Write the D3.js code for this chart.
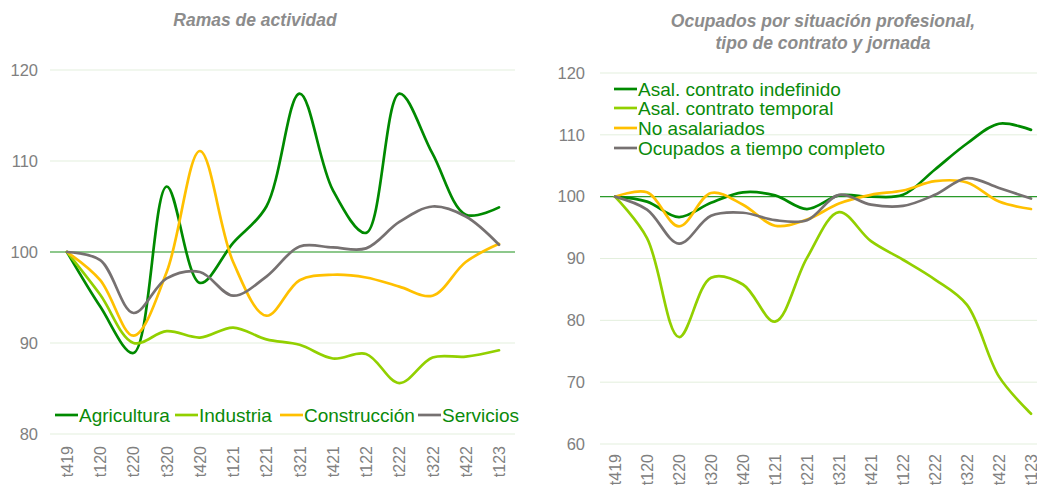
<!DOCTYPE html>
<html>
<head>
<meta charset="utf-8">
<script src="https://cdn.jsdelivr.net/npm/d3@7"></script>
<style>
  body { margin: 0; background: #fff; }
  svg { font-family: "Liberation Sans", Arial, sans-serif; }
</style>
</head>
<body>
<svg id="chart" width="1037" height="486"></svg>
<script>
// quarters shared by both panels
const quarters = ["t419", "t120", "t220", "t320", "t420", "t121", "t221", "t321",
                  "t421", "t122", "t222", "t322", "t422", "t123"];

// left panel: ramas de actividad
const agricultura  = [100, 94.0, 88.9, 107.2, 96.6, 101.0, 105.0, 117.4, 106.8, 102.1, 117.4, 110.8, 104.1, 104.9];
const industria    = [100, 95.3, 90.0, 91.3, 90.6, 91.7, 90.4, 89.8, 88.3, 88.8, 85.6, 88.4, 88.5, 89.2];
const construccion = [100, 96.9, 90.8, 97.8, 111.1, 98.9, 93.0, 96.9, 97.5, 97.2, 96.2, 95.2, 98.9, 100.9];
const servicios    = [100, 99.1, 93.3, 97.1, 97.8, 95.2, 97.3, 100.6, 100.5, 100.4, 103.3, 105.0, 103.9, 100.8];

// right panel: situación profesional, contrato y jornada
const indefinido = [100, 99.2, 96.7, 99.0, 100.7, 100.2, 98.0, 100.2, 100.0, 100.3, 104.4, 108.6, 111.8, 110.8];
const temporal   = [100, 93.3, 77.3, 86.9, 85.8, 79.8, 90.1, 97.5, 92.8, 89.8, 86.6, 82.5, 70.9, 64.9];
const noAsal     = [100, 100.7, 95.2, 100.6, 98.7, 95.3, 96.3, 98.9, 100.3, 101.0, 102.5, 102.3, 99.2, 98.0];
const completo   = [100, 97.9, 92.4, 96.9, 97.4, 96.2, 96.2, 100.3, 98.7, 98.5, 100.3, 103.0, 101.4, 99.7];

const leftTicks  = [80, 90, 100, 110, 120];
const rightTicks = [60, 70, 80, 90, 100, 110, 120];

const colors = {
  dark: "#008a00",
  light: "#92d000",
  yellow: "#ffc000",
  gray: "#767171"
};
const textGreen = "#0a8a0a";
const axisGray = "#808080";

const svg = d3.select("#chart");

function drawPanel(cfg) {
  const g = svg.append("g");

  const x = d3.scalePoint()
    .domain(quarters)
    .range(cfg.xRange);

  const y = d3.scaleLinear()
    .domain(cfg.yDomain)
    .range(cfg.yRange);

  // gridlines
  g.selectAll(".grid")
    .data(cfg.ticks)
    .join("line")
    .attr("x1", cfg.plotX[0])
    .attr("x2", cfg.plotX[1])
    .attr("y1", d => y(d))
    .attr("y2", d => y(d))
    .attr("stroke", "#e3efdd")
    .attr("stroke-width", 1);

  // y tick labels
  g.selectAll(".ylab")
    .data(cfg.ticks)
    .join("text")
    .attr("x", cfg.labelX)
    .attr("y", d => y(d))
    .attr("dy", "0.35em")
    .attr("text-anchor", "end")
    .attr("fill", axisGray)
    .attr("font-size", "16.5px")
    .text(d => d);

  // x tick labels (rotated)
  g.selectAll(".xlab")
    .data(quarters)
    .join("text")
    .attr("transform", d => `translate(${x(d) + 6},${cfg.xLabelY}) rotate(-90)`)
    .attr("text-anchor", "end")
    .attr("fill", axisGray)
    .attr("font-size", "16px")
    .text(d => d);

  // reference line at 100
  g.append("line")
    .attr("x1", cfg.plotX[0])
    .attr("x2", cfg.plotX[1])
    .attr("y1", y(100))
    .attr("y2", y(100))
    .attr("stroke", "#2a9a2a")
    .attr("stroke-width", 1.2);

  const line = d3.line()
    .x((d, i) => x(quarters[i]))
    .y(d => y(d))
    .curve(d3.curveCatmullRom.alpha(0.5));

  g.selectAll(".series")
    .data(cfg.series)
    .join("path")
    .attr("d", d => line(d.values))
    .attr("fill", "none")
    .attr("stroke", d => d.color)
    .attr("stroke-width", 2.7)
    .attr("stroke-linecap", "round");

  // title
  g.selectAll(".title")
    .data(cfg.title)
    .join("text")
    .attr("x", cfg.titleX)
    .attr("y", (d, i) => cfg.titleY + i * 22)
    .attr("text-anchor", "middle")
    .attr("fill", "#8c8c8c")
    .attr("font-size", "17.5px")
    .attr("font-weight", "bold")
    .attr("font-style", "italic")
    .text(d => d);

  // legend
  const leg = g.selectAll(".leg")
    .data(cfg.series)
    .join("g")
    .attr("transform", (d, i) => `translate(${cfg.legendPos[i][0]},${cfg.legendPos[i][1]})`);

  leg.append("line")
    .attr("x1", 0).attr("x2", 23)
    .attr("y1", 0).attr("y2", 0)
    .attr("stroke", d => d.color)
    .attr("stroke-width", 2.7);

  leg.append("text")
    .attr("x", 24)
    .attr("dy", "0.35em")
    .attr("fill", textGreen)
    .attr("font-size", "19px")
    .text(d => d.name);
}

drawPanel({
  xRange: [67, 499],
  yDomain: [80, 120],
  yRange: [434, 70],
  plotX: [50, 515],
  labelX: 38,
  xLabelY: 446,
  ticks: leftTicks,
  title: ["Ramas de actividad"],
  titleX: 255,
  titleY: 26,
  series: [
    { name: "Agricultura", values: agricultura, color: colors.dark },
    { name: "Industria", values: industria, color: colors.light },
    { name: "Construcción", values: construccion, color: colors.yellow },
    { name: "Servicios", values: servicios, color: colors.gray }
  ],
  legendPos: [[55, 415], [175, 415], [280, 415], [418, 415]]
});

drawPanel({
  xRange: [615, 1031],
  yDomain: [60, 120],
  yRange: [444, 73],
  plotX: [600, 1037],
  labelX: 585,
  xLabelY: 454,
  ticks: rightTicks,
  title: ["Ocupados por situación profesional,", "tipo de contrato y jornada"],
  titleX: 823,
  titleY: 27,
  series: [
    { name: "Asal. contrato indefinido", values: indefinido, color: colors.dark },
    { name: "Asal. contrato temporal", values: temporal, color: colors.light },
    { name: "No asalariados", values: noAsal, color: colors.yellow },
    { name: "Ocupados a tiempo completo", values: completo, color: colors.gray }
  ],
  legendPos: [[614, 89], [614, 108], [614, 128], [614, 148]]
});
</script>
</body>
</html>
